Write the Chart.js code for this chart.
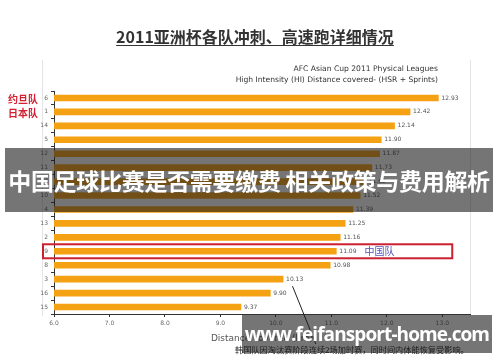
<!DOCTYPE html>
<html>
<head>
<meta charset="utf-8">
<script src="https://cdn.jsdelivr.net/npm/chart.js@4.4.1/dist/chart.umd.min.js"></script>
<style>
  html, body { margin: 0; padding: 0; background: #fff; }
  #wrap { position: relative; width: 500px; height: 362px; overflow: hidden; }
  #c { position: absolute; left: 0; top: 0; }
  .txt { position: absolute; white-space: nowrap; }
  #title { left: 0; width: 510px; top: 24px; text-align: center; font: bold 16px "Noto Sans CJK SC"; color: #333; text-decoration: underline; text-underline-offset: 2px; }
  #sub { right: 62px; top: 63px; text-align: right; font: 7.6px "DejaVu Sans"; color: #333; line-height: 11px; }
  #banner { left: 5px; top: 148px; width: 488px; height: 64px; background: rgba(25,25,25,0.6); color: #fff; font: bold 23px "Noto Sans CJK SC"; line-height: 64px; text-align: center; letter-spacing: -0.3px; }
  #note { left: 235px; top: 343px; font: 8.2px "Noto Sans CJK SC"; color: #222; }
  #mark { left: 242px; top: 315px; width: 250px; height: 38px; background: rgba(25,25,25,0.6); color: #fff; font: bold 19px "Open Sans"; line-height: 38px; text-align: center; letter-spacing: -0.9px; }
  .frame { position: absolute; top: 60px; width: 1px; height: 256px; background: #e4e4e4; }
</style>
</head>
<body>
<div id="wrap">
  <div class="frame" style="left:42px"></div>
  <div class="frame" style="left:470px"></div>
  <canvas id="c" width="500" height="362"></canvas>
  <div class="txt" id="title">2011亚洲杯各队冲刺、高速跑详细情况</div>
  <div class="txt" id="sub">AFC Asian Cup 2011 Physical Leagues<br>High Intensity (HI) Distance covered- (HSR + Sprints)</div>
  <div class="txt" id="note">韩国队因淘汰赛阶段连续2场加时赛，同时间内体能恢复受影响。</div>
  <div class="txt" id="banner">中国足球比赛是否需要缴费 相关政策与费用解析</div>
  <div class="txt" id="mark">www.feifansport-home.com</div>
</div>
<script>
// team numbers, top to bottom
const teamIds = ['6', '1', '14', '5', '12', '11', '7', '10', '4', '13', '2', '9', '8', '3', '16', '15'];
// HI distance (km)
const distances = [12.93, 12.42, 12.14, 11.90, 11.87, 11.73, 11.62, 11.52, 11.39, 11.25, 11.16, 11.09, 10.98, 10.13, 9.90, 9.37];
const xTicks = [6, 7, 8, 9, 10, 11, 12, 13];
// red names next to the first rows
const topNames = ['约旦队', '日本队'];
const chinaId = '9';
const chinaName = '中国队';
const koreaId = '3';

const notes = {
    id: 'notes',
    afterDatasetsDraw(chart) {
        const ctx = chart.ctx;
        const y = chart.scales.y;
        const x = chart.scales.x;
        const area = chart.chartArea;
        const bars = chart.getDatasetMeta(0).data;

        // value labels
        ctx.save();
        ctx.font = '6px "DejaVu Sans"';
        ctx.fillStyle = '#555';
        ctx.textBaseline = 'middle';
        bars.forEach((b, i) => {
            ctx.fillText(distances[i].toFixed(2), b.x + 3, b.y);
        });

        // red team names
        ctx.font = 'bold 10px "Noto Sans CJK SC"';
        ctx.fillStyle = '#d42030';
        topNames.forEach((n, i) => {
            ctx.fillText(n, 8, y.getPixelForValue(i) + 1);
        });

        // China box
        const ci = teamIds.indexOf(chinaId);
        const cy = y.getPixelForValue(ci);
        ctx.strokeStyle = '#cc2030';
        ctx.lineWidth = 2;
        ctx.strokeRect(43, cy - 7, x.getPixelForValue(13.18) - 43, 14);
        ctx.font = '10px "Noto Sans CJK SC"';
        ctx.fillStyle = '#5552b8';
        ctx.fillText(chinaName, x.getPixelForValue(11.6), cy);

        // Korea pointer
        const ki = teamIds.indexOf(koreaId);
        const ky = y.getPixelForValue(ki);
        ctx.strokeStyle = '#222';
        ctx.lineWidth = 1;
        ctx.beginPath();
        ctx.moveTo(x.getPixelForValue(10.3), ky + 7);
        ctx.lineTo(x.getPixelForValue(10.72), area.bottom + 30);
        ctx.stroke();
        ctx.restore();
    }
};

new Chart(document.getElementById('c'), {
    type: 'bar',
    data: {
        labels: teamIds,
        datasets: [{
            data: distances,
            backgroundColor: '#f5a114',
            barThickness: 6,
        }],
    },
    options: {
        indexAxis: 'y',
        responsive: false,
        animation: false,
        devicePixelRatio: 1,
        layout: { padding: { top: 91, left: 0, right: 30, bottom: 18 } },
        plugins: { legend: { display: false }, tooltip: { enabled: false } },
        scales: {
            x: {
                min: 6,
                max: 13.5,
                afterBuildTicks: (s) => { s.ticks = xTicks.map(v => ({ value: v })); },
                ticks: {
                    callback: (v) => Number(v).toFixed(1),
                    font: { family: 'DejaVu Sans', size: 6 },
                    color: '#666',
                    padding: 3,
                    maxRotation: 0,
                },
                grid: { drawOnChartArea: false, tickLength: 3, color: '#333' },
                border: { color: '#333' },
                title: {
                    display: true,
                    text: 'Distance covered (km)',
                    font: { family: 'DejaVu Sans', size: 9 },
                    color: '#555',
                    padding: { top: 3, bottom: 0 },
                },
            },
            y: {
                afterFit: (s) => { s.width = 54; },
                ticks: {
                    font: { family: 'DejaVu Sans', size: 6 },
                    color: '#666',
                    padding: 3,
                },
                grid: { drawOnChartArea: false, tickLength: 3, color: '#333' },
                border: { color: '#333' },
            },
        },
    },
    plugins: [notes],
});
</script>
</body>
</html>
